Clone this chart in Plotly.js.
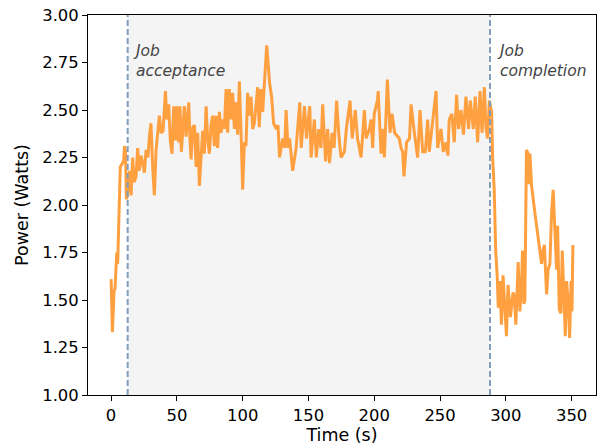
<!DOCTYPE html>
<html>
<head>
<meta charset="utf-8">
<script src="https://cdn.plot.ly/plotly-3.0.1.min.js"></script>
<style>html,body{margin:0;padding:0;background:#fff;}#chart{width:597px;height:447px;}</style>
</head>
<body>
<div id="chart"></div>
<script>
// Time (s) and power (W) readings
var timeS = [0,1,2.3,3,4.3,5,7,8.5,9.5,10.2,11,11.6,12.4,14,15.2,16.4,17.5,19,20.2,21.3,22.8,24,25.3,26.6,28,29.1,30.3,31.6,32.9,34.2,35.5,36.7,38,39.5,41.3,42.4,43.8,45,46.3,47.6,48.9,49.9,51.4,52.4,53.4,54.5,55.7,57,59,60,60.8,62.1,63.4,64.6,65.8,67.1,68.3,69.6,70.9,72.2,73.5,74.7,76,77.2,78.5,79.8,81,82.3,83.6,84.8,86.1,87.4,88.6,89.9,91.1,92.4,93.7,95,96.2,97.5,98.8,100,101.3,102.5,103.8,105.1,106.4,107.6,108.9,110.1,111.4,112.6,113.9,115.2,116.5,117.7,118.3,120.5,122,123.5,125.7,126.9,128,130.5,132,133,134.5,135.7,138,140.6,143.4,144.5,147,148.5,151,152,154.5,156,157.8,159.5,160.8,163,164.6,166,168,169.5,171.4,173.3,174.8,177.3,178.8,181.6,183.3,185.6,187.3,188.7,190,192.5,193.8,196.3,197.6,198.8,200,202.4,203,205.2,206.8,207.7,210,212,213.5,215.5,219,220.4,221.6,222.6,224.6,226.8,228,230.5,233,234.8,236.8,238.8,240.6,241.8,244.4,247,248.2,250.7,252.5,254.6,256,257,259,260.8,262.6,264.1,266,267.8,269.7,271.7,273,275.3,276.8,278.6,280.4,281.9,283.7,285,286.2,287.5,289.2,290,291.2,292.3,293.5,294.3,295.5,296.7,297.9,299.2,300.5,301.7,303.5,305.5,306.5,307.6,309.4,310.7,312,312.7,313.7,314.5,315.7,317,317.8,318.3,319.6,322.1,324.6,326,327.2,328.2,329.3,331,332.2,333.5,334.8,336,337.3,338.6,339.4,340.6,341.9,342.9,344.2,345.2,346.2,347.5,348.5,349.6,350.3,351];
var powerW = [1.61,1.33,1.55,1.56,1.75,1.69,2.20,2.22,2.23,2.31,2.28,2.03,2.05,2.18,2.05,2.25,2.12,2.15,2.30,2.18,2.26,2.22,2.17,2.29,2.25,2.36,2.43,2.20,2.05,2.29,2.40,2.47,2.38,2.39,2.60,2.45,2.53,2.34,2.27,2.52,2.34,2.52,2.33,2.52,2.28,2.40,2.52,2.36,2.54,2.34,2.24,2.41,2.42,2.20,2.38,2.10,2.24,2.39,2.27,2.52,2.34,2.27,2.42,2.47,2.31,2.47,2.30,2.49,2.38,2.45,2.40,2.61,2.38,2.61,2.45,2.59,2.40,2.54,2.37,2.65,2.38,2.08,2.33,2.31,2.59,2.47,2.57,2.40,2.43,2.52,2.62,2.41,2.61,2.49,2.65,2.83,2.84,2.64,2.57,2.43,2.40,2.42,2.25,2.35,2.30,2.50,2.30,2.35,2.18,2.30,2.54,2.30,2.52,2.35,2.52,2.25,2.45,2.25,2.40,2.30,2.53,2.23,2.40,2.22,2.38,2.30,2.55,2.35,2.25,2.28,2.40,2.55,2.35,2.50,2.35,2.30,2.25,2.50,2.35,2.40,2.45,2.30,2.48,2.55,2.60,2.27,2.40,2.25,2.66,2.38,2.48,2.38,2.35,2.30,2.28,2.15,2.33,2.35,2.53,2.38,2.25,2.50,2.28,2.28,2.45,2.28,2.45,2.60,2.30,2.40,2.28,2.33,2.26,2.45,2.48,2.33,2.58,2.40,2.50,2.37,2.57,2.40,2.55,2.40,2.57,2.33,2.60,2.38,2.62,2.40,2.35,2.55,2.49,2.25,2.08,1.76,1.62,1.46,1.60,1.37,1.63,1.48,1.31,1.58,1.41,1.54,1.52,1.37,1.70,1.44,1.59,1.76,1.48,1.50,2.29,2.27,2.11,2.27,2.10,1.96,1.83,1.78,1.69,1.76,1.79,1.53,1.66,1.69,1.96,2.08,1.90,1.66,1.89,1.45,1.43,1.76,1.52,1.31,1.60,1.48,1.30,1.60,1.44,1.79];
var jobStart = 12.6;
var jobEnd = 288.0;
var eventLabels = ["Job<br>acceptance", "Job<br>completion"];
var xTicks = [0,50,100,150,200,250,300,350];
var yTicks = [1.00,1.25,1.50,1.75,2.00,2.25,2.50,2.75,3.00];

var tickFont = {family: "DejaVu Sans, sans-serif", size: 16.4, color: "#000"};
var titleFont = {family: "DejaVu Sans, sans-serif", size: 17.5, color: "#000"};
var dashColor = "#809dbb";

var trace = {
  x: timeS, y: powerW, type: "scatter", mode: "lines",
  line: {color: "#ffa040", width: 3},
  hoverinfo: "skip"
};

var layout = {
  width: 597, height: 447,
  margin: {l: 88, r: 1, t: 15, b: 52},
  paper_bgcolor: "#fff", plot_bgcolor: "#fff",
  font: tickFont,
  showlegend: false,
  xaxis: {
    range: [-17.55, 368.55], tickvals: xTicks, ticktext: xTicks.map(String),
    ticks: "outside", ticklen: 5, tickwidth: 1, tickcolor: "#000", tickfont: tickFont,
    showline: true, linecolor: "#000", linewidth: 1, mirror: true,
    showgrid: false, zeroline: false,
    title: {text: "Time (s)", font: titleFont, standoff: 5}
  },
  yaxis: {
    range: [1.0, 3.0], tickvals: yTicks, ticktext: yTicks.map(function(v){return v.toFixed(2);}),
    ticks: "outside", ticklen: 5, tickwidth: 1, tickcolor: "#000", tickfont: tickFont,
    showline: true, linecolor: "#000", linewidth: 1, mirror: true,
    showgrid: false, zeroline: false,
    title: {text: "Power (Watts)", font: titleFont, standoff: 9}
  },
  shapes: [
    {type: "rect", xref: "x", yref: "paper", x0: jobStart, x1: jobEnd, y0: 0, y1: 1,
     fillcolor: "#f4f4f4", line: {width: 0}, layer: "below"},
    {type: "line", xref: "x", yref: "paper", x0: jobStart, x1: jobStart, y0: 0, y1: 1,
     line: {color: dashColor, width: 2, dash: "6px,3px"}},
    {type: "line", xref: "x", yref: "paper", x0: jobEnd, x1: jobEnd, y0: 0, y1: 1,
     line: {color: dashColor, width: 2, dash: "6px,3px"}}
  ],
  annotations: [
    {x: jobStart, y: 2.87, xref: "x", yref: "y", text: "<i>" + eventLabels[0] + "</i>",
     showarrow: false, xanchor: "left", yanchor: "top", align: "left", xshift: 3,
     font: {family: "DejaVu Sans, sans-serif", size: 15.5, color: "#444"}},
    {x: jobEnd, y: 2.87, xref: "x", yref: "y", text: "<i>" + eventLabels[1] + "</i>",
     showarrow: false, xanchor: "left", yanchor: "top", align: "left", xshift: 5,
     font: {family: "DejaVu Sans, sans-serif", size: 15.5, color: "#444"}}
  ]
};

Plotly.newPlot("chart", [trace], layout, {staticPlot: true, displayModeBar: false});
</script>
</body>
</html>
